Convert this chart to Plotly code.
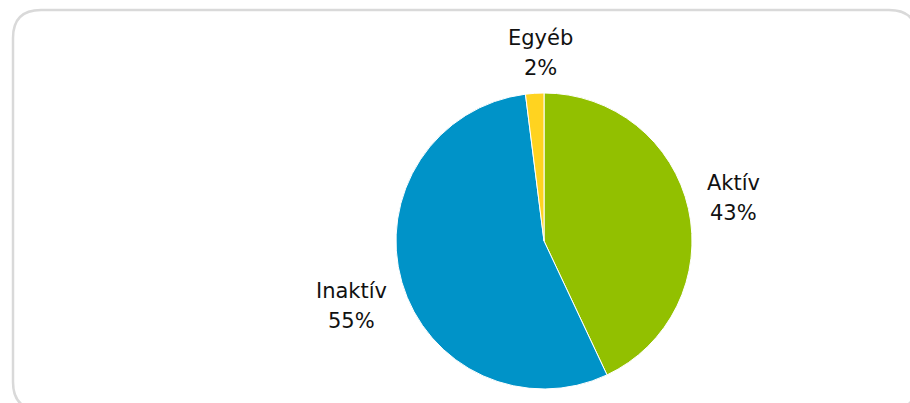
import plotly.graph_objects as go

# Share of members by status
labels = ["Aktív", "Inaktív", "Egyéb"]
values = [43, 55, 2]
colors = ["#92C000", "#0093C8", "#FFD320"]

W, H = 910, 403

# Pixel centres of the two-line outside labels (name line, percent line below)
label_pos = {
    "Aktív": (733, 183),
    "Inaktív": (351, 291),
    "Egyéb": (540, 38),
}
LINE_GAP = 30
FONT = dict(family="DejaVu Sans", size=21, color="#111111")

fig = go.Figure()

fig.add_trace(go.Pie(
    labels=labels,
    values=values,
    sort=False,
    direction="clockwise",
    rotation=0,
    marker=dict(colors=colors, line=dict(color="#FFFFFF", width=1)),
    textinfo="none",
    showlegend=False,
    hoverinfo="label+percent",
    domain=dict(x=[(544 - 148) / W, (544 + 148) / W],
                y=[(H - 389) / H, (H - 93) / H]),
))

total = sum(values)
for lab, val in zip(labels, values):
    px, py = label_pos[lab]
    pct = f"{round(100 * val / total)}%"
    for i, txt in enumerate([lab, pct]):
        fig.add_annotation(
            x=px / W, y=1 - (py + i * LINE_GAP) / H,
            xref="paper", yref="paper",
            text=txt, showarrow=False,
            xanchor="center", yanchor="middle",
            font=FONT,
        )

# Rounded frame around the chart area
x0, x1 = 13 / W, 917 / W
y0, y1 = 1 - 410 / H, 1 - 10 / H
rx, ry = 28 / W, 28 / H
path = (f"M {x0 + rx},{y1} L {x1 - rx},{y1} Q {x1},{y1} {x1},{y1 - ry} "
        f"L {x1},{y0 + ry} Q {x1},{y0} {x1 - rx},{y0} "
        f"L {x0 + rx},{y0} Q {x0},{y0} {x0},{y0 + ry} "
        f"L {x0},{y1 - ry} Q {x0},{y1} {x0 + rx},{y1} Z")
fig.add_shape(type="path", path=path, xref="paper", yref="paper",
              line=dict(color="#D9D9D9", width=2.5), layer="below")

fig.update_layout(
    width=W, height=H,
    margin=dict(l=0, r=0, t=0, b=0),
    paper_bgcolor="#FFFFFF",
    plot_bgcolor="#FFFFFF",
)

fig.write_html("out.html")
